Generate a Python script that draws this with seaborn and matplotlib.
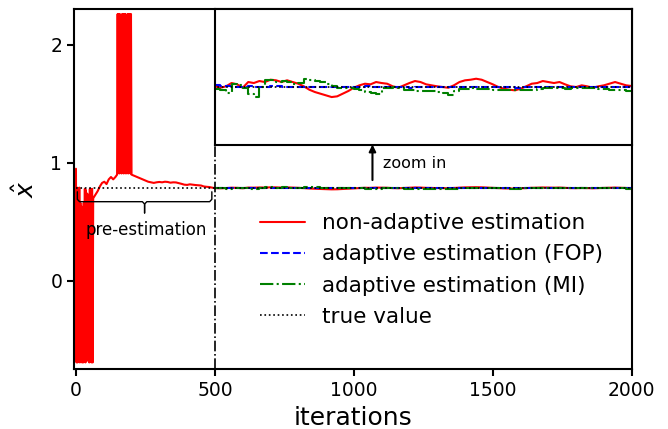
import matplotlib
matplotlib.use('Agg')
import matplotlib.pyplot as plt
import seaborn as sns

true_value = 0.7854

# pre-estimation phase: only the non-adaptive estimator runs here
pre_iters = [0, 2, 4, 6, 8, 10, 12, 14, 16, 18, 20, 22, 24, 26, 28, 30,
             32, 34, 36, 38, 40, 42, 44, 46, 48, 50, 52, 54, 56, 58, 60, 62,
             70, 78, 86, 94, 102, 110, 118, 126, 134, 142, 148,
             150, 152, 154, 156, 158, 160, 162, 164, 166, 168, 170, 172, 174,
             176, 178, 180, 182, 184, 186, 188, 190, 192, 194, 196, 198, 200,
             210, 220, 230, 240, 250, 260, 270, 280, 290, 300, 310, 320, 330,
             340, 350, 360, 370, 380, 390, 400, 410, 420, 430, 440, 450, 460,
             470, 480, 490]
pre_vals = [0.95, -0.69, 0.79, -0.69, 0.78, -0.68, 0.79, -0.69, 0.66, -0.68,
            0.63, -0.69, 0.62, -0.69, 0.66, -0.68, 0.78, -0.69, 0.77, -0.68,
            0.74, 0.70, 0.73, 0.71, -0.69, 0.78, -0.68, 0.77, -0.69, 0.78,
            -0.69, 0.70,
            0.73, 0.76, 0.80, 0.83, 0.84, 0.82, 0.86, 0.88, 0.86, 0.88, 0.90,
            2.26, 0.92, 2.26, 0.91, 2.26, 0.92, 2.25, 0.91, 2.26, 0.92, 2.26,
            0.91, 2.26, 0.92, 2.26, 0.91, 2.25, 0.92, 2.26, 0.91, 2.26, 0.92,
            2.26, 0.91, 2.26, 0.90,
            0.89, 0.88, 0.87, 0.86, 0.85, 0.84, 0.835, 0.83, 0.835, 0.838,
            0.835, 0.84, 0.838, 0.832, 0.835, 0.834, 0.828, 0.822, 0.815,
            0.813, 0.818, 0.815, 0.812, 0.81, 0.808, 0.80, 0.797, 0.795, 0.79]

# after pre-estimation (every 20 iterations)
post_iters = list(range(500, 2001, 20))
nonadaptive_post = [
    0.7861, 0.7847, 0.7861, 0.7894, 0.7881, 0.7847, 0.7904, 0.7894, 0.7914, 0.7904,
    0.7927, 0.7921, 0.7904, 0.7921, 0.7904, 0.7887, 0.7861, 0.7827, 0.7804, 0.7787,
    0.7771, 0.7754, 0.7761, 0.7787, 0.7814, 0.7847, 0.7871, 0.7887, 0.7881, 0.7904,
    0.7894, 0.7887, 0.7861, 0.7847, 0.7871, 0.7894, 0.7914, 0.7904, 0.7881, 0.7871,
    0.7861, 0.7854, 0.7847, 0.7871, 0.7904, 0.7921, 0.7927, 0.7937, 0.7927, 0.7904,
    0.7881, 0.7854, 0.7837, 0.7827, 0.7821, 0.7837, 0.7861, 0.7887, 0.7894, 0.7914,
    0.7904, 0.7894, 0.7904, 0.7881, 0.7861, 0.7854, 0.7871, 0.7861, 0.7847, 0.7861,
    0.7871, 0.7887, 0.7904, 0.7887, 0.7871, 0.7864]
fop_post = [
    0.7871, 0.7864, 0.7861, 0.7857, 0.7854, 0.7857, 0.7861, 0.7857, 0.7854, 0.7857,
    0.7861, 0.7864, 0.7857, 0.7854, 0.7851, 0.7854, 0.7857, 0.7854, 0.7851, 0.7854,
    0.7857, 0.7854, 0.7851, 0.7854, 0.7857, 0.7854, 0.7857, 0.7861, 0.7857, 0.7854,
    0.7851, 0.7854, 0.7857, 0.7854, 0.7851, 0.7847, 0.7851, 0.7854, 0.7857, 0.7854,
    0.7851, 0.7854, 0.7857, 0.7854, 0.7851, 0.7854, 0.7857, 0.7854, 0.7851, 0.7851,
    0.7854, 0.7857, 0.7854, 0.7851, 0.7847, 0.7851, 0.7854, 0.7857, 0.7854, 0.7854,
    0.7857, 0.7854, 0.7851, 0.7854, 0.7857, 0.7854, 0.7851, 0.7854, 0.7857, 0.7854,
    0.7851, 0.7854, 0.7857, 0.7854, 0.7851, 0.7854]
mi_post = [
    0.7837, 0.7827, 0.7794, 0.7881, 0.7871, 0.7847, 0.7787, 0.7754, 0.7854, 0.7927,
    0.7921, 0.7904, 0.7914, 0.7904, 0.7881, 0.7894, 0.7934, 0.7927, 0.7914, 0.7904,
    0.7887, 0.7861, 0.7847, 0.7847, 0.7847, 0.7837, 0.7827, 0.7804, 0.7794, 0.7787,
    0.7847, 0.7847, 0.7854, 0.7847, 0.7821, 0.7821, 0.7814, 0.7814, 0.7814, 0.7814,
    0.7804, 0.7794, 0.7771, 0.7814, 0.7837, 0.7837, 0.7847, 0.7837, 0.7837, 0.7837,
    0.7827, 0.7827, 0.7827, 0.7821, 0.7821, 0.7827, 0.7827, 0.7827, 0.7837, 0.7847,
    0.7847, 0.7847, 0.7847, 0.7837, 0.7847, 0.7847, 0.7847, 0.7847, 0.7847, 0.7837,
    0.7837, 0.7827, 0.7827, 0.7827, 0.7814, 0.7814]

nonadaptive_iters = pre_iters + post_iters
nonadaptive_vals = pre_vals + nonadaptive_post

sns.set_style('ticks')
plt.rcParams['font.family'] = ['DejaVu Sans']
plt.rcParams.update({'axes.linewidth': 1.5, 'text.color': 'black',
                     'axes.labelcolor': 'black', 'xtick.color': 'black',
                     'ytick.color': 'black', 'axes.edgecolor': 'black'})

fig, ax = plt.subplots(figsize=(6.68, 4.29), dpi=100)
fig.subplots_adjust(left=0.1108, right=0.9457, top=0.9783, bottom=0.1387)

xlim = (-7, 2000)
ylim = (-0.75, 2.3)
inset_bottom = 1.155


def draw_series(a, with_labels):
    sns.lineplot(x=nonadaptive_iters, y=nonadaptive_vals, ax=a, color='red', lw=1.5,
                 label='non-adaptive estimation' if with_labels else None,
                 legend=with_labels, errorbar=None)
    sns.lineplot(x=post_iters, y=fop_post, ax=a, color='blue', lw=1.5, linestyle='--',
                 drawstyle='steps-post',
                 label='adaptive estimation (FOP)' if with_labels else None,
                 legend=with_labels, errorbar=None)
    sns.lineplot(x=post_iters, y=mi_post, ax=a, color='green', lw=1.5, linestyle='-.',
                 drawstyle='steps-post',
                 label='adaptive estimation (MI)' if with_labels else None,
                 legend=with_labels, errorbar=None)
    span = [nonadaptive_iters[0], post_iters[-1]]
    sns.lineplot(x=span, y=[true_value, true_value], ax=a, color='black', lw=1.2,
                 linestyle=':', label='true value' if with_labels else None,
                 legend=with_labels, errorbar=None)


draw_series(ax, True)

ax.set_xlim(*xlim)
ax.set_ylim(*ylim)
ax.set_xticks([0, 500, 1000, 1500, 2000])
ax.set_yticks([0, 1, 2])
ax.tick_params(labelsize=13.5, width=1.5, length=5)
ax.set_xlabel('iterations', fontsize=18)
ax.set_ylabel(r'$\hat{x}$', fontsize=18, labelpad=8)
for s in ax.spines.values():
    s.set_visible(True)
    s.set_linewidth(1.5)

# end of pre-estimation marker
ax.axvline(500, ymin=0, ymax=(inset_bottom - ylim[0]) / (ylim[1] - ylim[0]),
           color='black', ls='-.', lw=1.2)

# curly brace under the pre-estimation part
x0, x1 = 5, 489
xc = (x0 + x1) / 2
ytop, ymid, ytip = 0.755, 0.671, 0.575
dx, dy = 8, 0.02
brace_x = [x0, x0, x0 + dx, xc - dx, xc, xc]
brace_y = [ytop, ymid + dy, ymid, ymid, ymid - dy, ytip]
ax.plot(brace_x, brace_y, color='black', lw=1.0)
ax.plot([2 * xc - v for v in brace_x], brace_y, color='black', lw=1.0)
ax.text(xc + 7, 0.43, 'pre-estimation', fontsize=12, ha='center', va='center')

# zoom arrow
ax.annotate('', xy=(1067, inset_bottom), xytext=(1067, 0.854),
            arrowprops=dict(arrowstyle='-|>', color='black', lw=1.5,
                            mutation_scale=10, shrinkA=0, shrinkB=0))
ax.text(1106, 0.997, 'zoom in', fontsize=11.5, va='center', ha='left')

ax.legend(loc='upper left', bbox_to_anchor=(0.318, 0.458), frameon=False,
          fontsize=15.5, handlelength=2.1, labelspacing=0.52, borderaxespad=0)

# inset
axins = ax.inset_axes([500, inset_bottom, 1500, ylim[1] - inset_bottom],
                      transform=ax.transData)
draw_series(axins, False)
axins.set_xlim(500, 2000)
axins.set_ylim(0.728, 0.863)
axins.set_xticks([])
axins.set_yticks([])
axins.set_xlabel('')
axins.set_ylabel('')
for s in axins.spines.values():
    s.set_visible(True)
    s.set_linewidth(1.5)
    s.set_color('black')

fig.savefig('out.png', dpi=100)
